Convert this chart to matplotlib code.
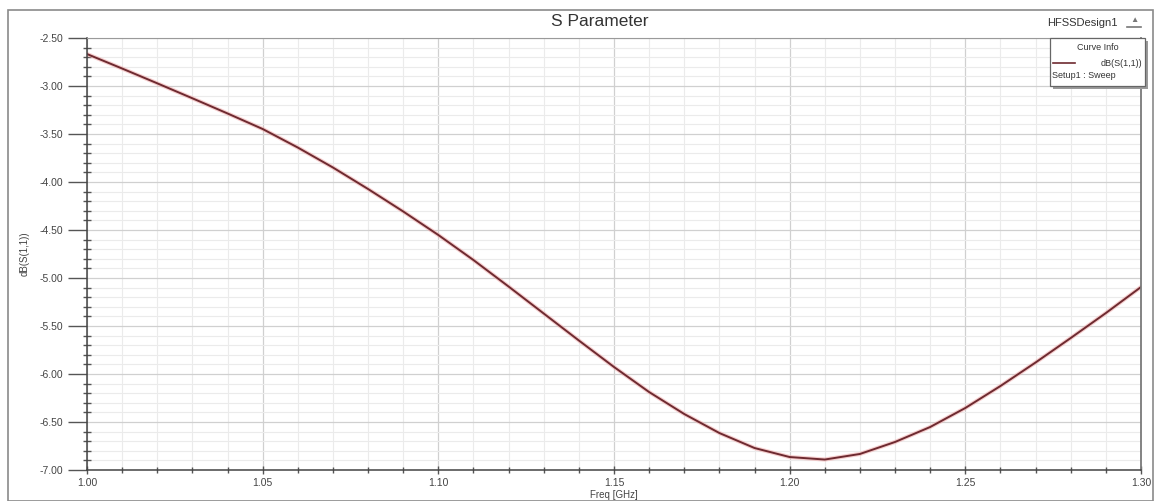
import matplotlib.pyplot as plt
from matplotlib.patches import Rectangle
from matplotlib.ticker import MultipleLocator, FormatStrFormatter

# sweep frequencies (GHz) and return loss (dB)
freq = [1.00, 1.01, 1.02, 1.03, 1.04, 1.05, 1.06, 1.07, 1.08, 1.09,
        1.10, 1.11, 1.12, 1.13, 1.14, 1.15, 1.16, 1.17, 1.18, 1.19,
        1.20, 1.21, 1.22, 1.23, 1.24, 1.25, 1.26, 1.27, 1.28, 1.29, 1.30]
s11_db = [-2.667, -2.818, -2.972, -3.128, -3.286, -3.448, -3.641, -3.849,
          -4.073, -4.307, -4.552, -4.813, -5.089, -5.370, -5.651, -5.927,
          -6.188, -6.417, -6.615, -6.771, -6.865, -6.891, -6.833, -6.708,
          -6.552, -6.354, -6.125, -5.880, -5.625, -5.365, -5.094]

title = "S Parameter"
design = "HFSSDesign1"
trace_name = "dB(S(1,1))"
sweep_name = "Setup1 : Sweep"

W, H = 1158, 501
fig = plt.figure(figsize=(W / 100, H / 100), dpi=100)
plt.rcParams["font.family"] = ["Liberation Sans", "DejaVu Sans"]

# outer window frame
fig.add_artist(Rectangle((8 / W, 0), 1145 / W, (H - 10) / H, transform=fig.transFigure,
                         fill=False, edgecolor="#8a8a8a", lw=1.2))

ax = fig.add_axes([87 / W, 1 - 470 / H, 1054 / W, 432 / H])
ax.plot(freq, s11_db, color="#f0a8a8", lw=3.0, alpha=0.55, solid_capstyle="round")
ax.plot(freq, s11_db, color="#6e2a30", lw=1.4)

ax.set_xlim(1.00, 1.30)
ax.set_ylim(-7.0, -2.5)
ax.xaxis.set_major_locator(MultipleLocator(0.05))
ax.xaxis.set_minor_locator(MultipleLocator(0.01))
ax.yaxis.set_major_locator(MultipleLocator(0.5))
ax.yaxis.set_minor_locator(MultipleLocator(0.1))
ax.xaxis.set_major_formatter(FormatStrFormatter("%.2f"))
ax.yaxis.set_major_formatter(FormatStrFormatter("%.2f"))

ax.grid(which="major", color="#d0d0d0", lw=0.9)
ax.grid(which="minor", color="#ebebeb", lw=0.8)
ax.set_axisbelow(True)

ax.tick_params(axis="y", which="major", direction="out", length=14, width=1.0,
               color="#555555", labelsize=7.5, labelcolor="#444444", pad=3)
ax.tick_params(axis="y", which="minor", direction="inout", length=6, width=1.0,
               color="#555555")
ax.tick_params(axis="x", which="major", direction="inout", length=6, width=1.0,
               color="#555555", labelsize=7.5, labelcolor="#444444", pad=3)
ax.tick_params(axis="x", which="minor", direction="inout", length=4, width=1.0,
               color="#555555")

for side in ("left", "bottom"):
    ax.spines[side].set_color("#444444")
    ax.spines[side].set_linewidth(1.1)
ax.spines["top"].set_color("#9a9a9a")
ax.spines["right"].set_color("#7a7a7a")
ax.spines["right"].set_linewidth(1.3)

ax.set_xlabel("Freq [GHz]", fontsize=7, color="#444444", labelpad=1)
ax.set_ylabel(trace_name, fontsize=7, color="#444444")
ax.yaxis.set_label_coords(-0.054, 0.5)

fig.text(600 / W, 1 - 22 / H, title, ha="center", va="center", fontsize=12.5, color="#333333")
fig.text(1118 / W, 1 - 23 / H, design, ha="right", va="center", fontsize=8, color="#333333")
fig.text(1134 / W, 1 - 20 / H, "\u25b2", ha="center", va="center", fontsize=6, color="#777777")
fig.add_artist(plt.Line2D([1127 / W, 1141 / W], [1 - 27 / H, 1 - 27 / H],
                          transform=fig.transFigure, color="#777777", lw=1.2))

# curve info box with drop shadow
bx0, by0, bx1, by1 = 1050, 38, 1145, 86
fig.add_artist(Rectangle(((bx0 + 3) / W, 1 - (by1 + 3) / H), (bx1 - bx0) / W, (by1 - by0) / H,
                         transform=fig.transFigure, facecolor="#9a9a9a", edgecolor="none", zorder=5))
fig.add_artist(Rectangle((bx0 / W, 1 - by1 / H), (bx1 - bx0) / W, (by1 - by0) / H,
                         transform=fig.transFigure, facecolor="white", edgecolor="#666666",
                         lw=0.9, zorder=6))
fig.text((bx0 + bx1) / 2 / W, 1 - 47 / H, "Curve Info", ha="center", va="center",
         fontsize=6.5, color="#333333", zorder=7)
fig.add_artist(plt.Line2D([1053 / W, 1075 / W], [1 - 63 / H, 1 - 63 / H],
                          transform=fig.transFigure, color="#6e2a30", lw=1.2, zorder=7))
fig.text(1142 / W, 1 - 63 / H, trace_name, ha="right", va="center",
         fontsize=6.5, color="#333333", zorder=7)
fig.text(1052 / W, 1 - 75 / H, sweep_name, ha="left", va="center",
         fontsize=6.5, color="#333333", zorder=7)

fig.savefig("out.png", dpi=100, facecolor="white")
